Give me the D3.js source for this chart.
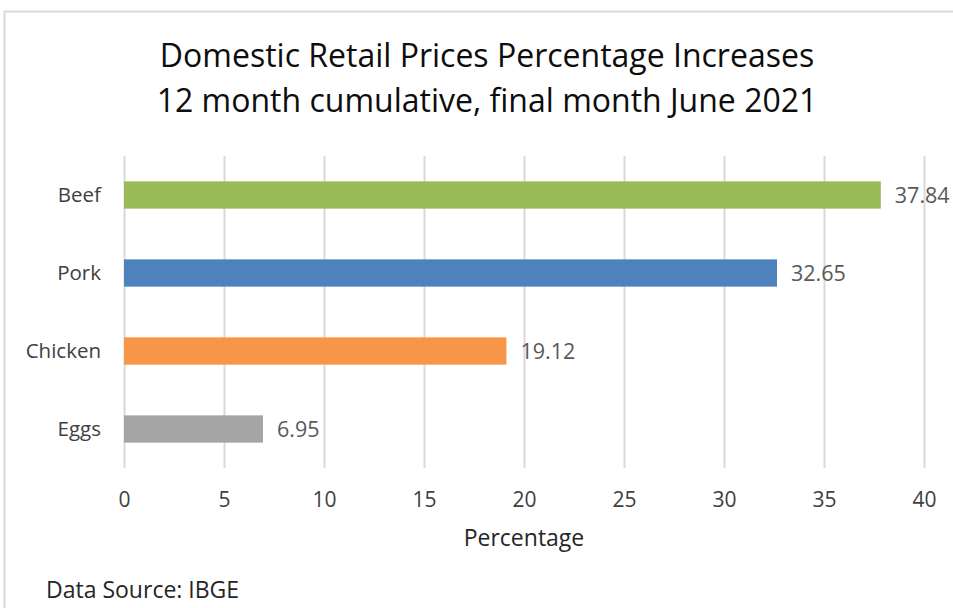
<!DOCTYPE html>
<html>
<head>
<meta charset="utf-8">
<script src="https://cdn.jsdelivr.net/npm/d3@7"></script>
<style>
  body { margin: 0; background: #fff; }
  svg text { font-family: "Open Sans", Lato, sans-serif; }
</style>
</head>
<body>
<div id="container"></div>
<script>
const categories = ['Beef', 'Pork', 'Chicken', 'Eggs'];
const values = [37.84, 32.65, 19.12, 6.95];
const barColors = ['#9bbb59', '#4f81bd', '#f79646', '#a5a5a5'];
const xTicks = [0, 5, 10, 15, 20, 25, 30, 35, 40];
const titleLines = [
  'Domestic Retail Prices Percentage Increases',
  '12 month cumulative, final month June 2021'
];

const w = 953;
const h = 608;
const plotLeft = 124;
const plotRight = 924;
const plotTop = 156;
const plotBottom = 468;

const svg = d3
  .select('#container')
  .append('svg')
  .attr('width', w)
  .attr('height', h);

// chart area border (only top and left visible in the crop)
svg
  .append('path')
  .attr('d', `M4.5,${h} V11.5 H${w}`)
  .attr('fill', 'none')
  .attr('stroke', '#d9d9d9')
  .attr('stroke-width', 2);

const xScale = d3.scaleLinear().domain([0, 40]).range([plotLeft, plotRight]);

const yScale = d3
  .scaleBand()
  .domain(categories)
  .range([plotTop, plotBottom])
  .paddingInner(0.65)
  .paddingOuter(0.325);

const xAxis = d3
  .axisBottom(xScale)
  .tickValues(xTicks)
  .tickSize(-(plotBottom - plotTop))
  .tickPadding(24);

const gx = svg
  .append('g')
  .attr('transform', `translate(0, ${plotBottom})`)
  .call(xAxis);
gx.select('.domain').remove();
gx.selectAll('.tick line').attr('stroke', '#d9d9d9').attr('stroke-width', 2);
gx.selectAll('.tick text')
  .attr('fill', '#404040')
  .style('font-size', '21px');

const yAxis = d3.axisLeft(yScale).tickSize(0).tickPadding(23);
const gy = svg
  .append('g')
  .attr('transform', `translate(${plotLeft}, 0)`)
  .call(yAxis);
gy.select('.domain').remove();
gy.selectAll('.tick text')
  .attr('fill', '#404040')
  .style('font-size', '20.5px');

svg
  .selectAll('rect.bar')
  .data(values)
  .enter()
  .append('rect')
  .attr('class', 'bar')
  .attr('x', xScale(0))
  .attr('y', (d, i) => yScale(categories[i]))
  .attr('width', d => xScale(d) - xScale(0))
  .attr('height', yScale.bandwidth())
  .attr('fill', (d, i) => barColors[i]);

svg
  .selectAll('text.value')
  .data(values)
  .enter()
  .append('text')
  .attr('class', 'value')
  .attr('x', d => xScale(d) + 14)
  .attr('y', (d, i) => yScale(categories[i]) + yScale.bandwidth() / 2)
  .attr('dy', '0.35em')
  .attr('fill', '#595959')
  .style('font-size', '21.5px')
  .text(d => d.toFixed(2));

svg
  .selectAll('text.title')
  .data(titleLines)
  .enter()
  .append('text')
  .attr('class', 'title')
  .attr('x', 487)
  .attr('y', (d, i) => 67 + i * 45)
  .attr('text-anchor', 'middle')
  .attr('fill', '#0d0d0d')
  .style('font-size', '32px')
  .text(d => d);

svg
  .append('text')
  .attr('x', (plotLeft + plotRight) / 2)
  .attr('y', 546)
  .attr('text-anchor', 'middle')
  .attr('fill', '#262626')
  .style('font-size', '23px')
  .text('Percentage');

svg
  .append('text')
  .attr('x', 46)
  .attr('y', 598)
  .attr('fill', '#262626')
  .style('font-size', '23px')
  .text('Data Source: IBGE');
</script>
</body>
</html>
